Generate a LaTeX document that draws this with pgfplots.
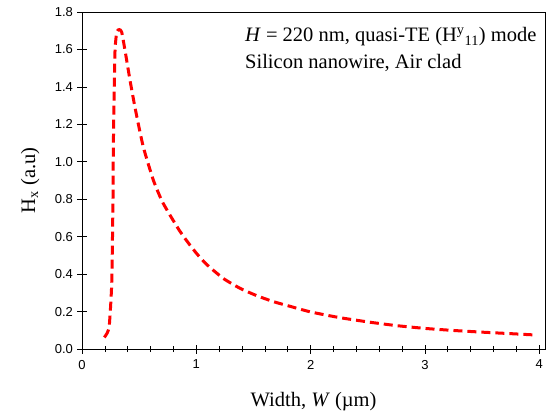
\documentclass[border=0pt]{standalone}
\usepackage{fontspec}
\setmainfont{Liberation Serif}
\setsansfont{Liberation Sans}
\usepackage{pgfplots}
\pgfplotsset{compat=1.18}

\begin{document}
\begin{tikzpicture}[x=1pt,y=1pt]
\useasboundingbox (-82,-67) rectangle (464,349);
\begin{axis}[
  at={(0,0)}, anchor=south west,
  scale only axis, width=463pt, height=337pt,
  xmin=0, xmax=4.05, ymin=0, ymax=1.8,
  axis line style={line width=0.8pt},
  xtick={0,1,2,3,4},
  minor x tick num=4,
  ytick={0,0.2,...,1.8},
  tick align=center,
  major tick length=9pt,
  minor tick length=6pt,
  tick style={line width=0.7pt, black},
  xtick pos=bottom, ytick pos=left,
  tick label style={font=\sffamily\fontsize{13}{15}\selectfont},
  /pgf/number format/assume math mode=true,
  yticklabel style={/pgf/number format/fixed, /pgf/number format/fixed zerofill,
    /pgf/number format/precision=1, xshift=-1pt},
  xticklabel style={yshift=-3pt},
  xlabel={Width, \textit{W} (\textmu m)},
  ylabel={H\textsubscript{x} (a.u)},
  label style={font=\fontsize{20.5}{24}\selectfont},
  xlabel style={at={(axis description cs:0.5,-0.156)}, anchor=center},
  ylabel style={at={(axis description cs:-0.112,0.5)}, anchor=center},
]
\addplot[red, line width=3pt, dash pattern=on 9pt off 5pt, smooth, tension=0.35] coordinates {
  (0.195,0.062) (0.22,0.085) (0.239,0.128) (0.26,0.351) (0.271,0.795)
  (0.274,1.062) (0.280,1.329) (0.289,1.596) (0.304,1.693) (0.326,1.706)
  (0.347,1.693) (0.376,1.596) (0.420,1.435) (0.470,1.270) (0.536,1.080)
  (0.624,0.902) (0.700,0.790) (0.770,0.715) (0.850,0.635) (0.916,0.578)
  (1.000,0.512) (1.090,0.452) (1.236,0.377) (1.380,0.325) (1.528,0.285)
  (1.680,0.252) (1.820,0.228) (2.000,0.198) (2.250,0.168) (2.520,0.143)
  (2.750,0.125) (3.000,0.110) (3.250,0.099) (3.500,0.090) (3.750,0.082)
  (3.960,0.075)
};
\end{axis}
\node[anchor=base west, font=\fontsize{20.5}{24}\selectfont, inner sep=0pt] at (163,307)
  {\textit{H} = 220 nm, quasi-TE (H\textsuperscript{y}\textsubscript{11}) mode};
\node[anchor=base west, font=\fontsize{20.5}{24}\selectfont, inner sep=0pt] at (163,280)
  {Silicon nanowire, Air clad};
\end{tikzpicture}
\end{document}
